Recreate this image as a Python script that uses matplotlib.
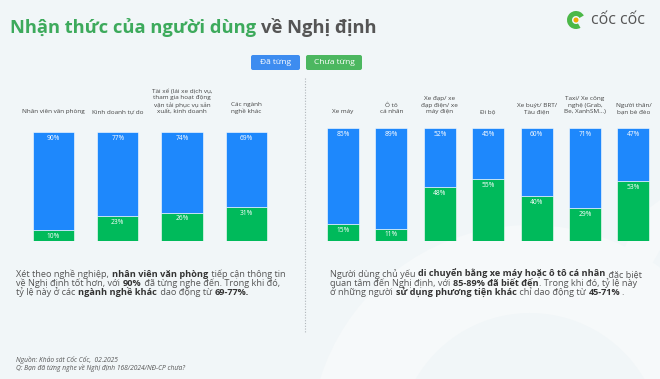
import matplotlib
matplotlib.use("Agg")
import matplotlib.pyplot as plt
from matplotlib.patches import FancyBboxPatch, Circle, Wedge

plt.rcParams['font.family'] = ['Open Sans', 'DejaVu Sans']

W, H = 660, 379
BG = '#F1F6F8'
BLUE = '#1E88FC'
GREEN = '#00BA5B'

# data
jobs = ['Nhân viên văn phòng', 'Kinh doanh tự do',
        'Tài xế (lái xe dịch vụ,\ntham gia hoạt động\nvận tải phục vụ sản\nxuất, kinh doanh',
        'Các ngành\nnghề khác']
jobs_yes = [90, 77, 74, 69]
jobs_no = [10, 23, 26, 31]

vehicles = ['Xe máy', 'Ô tô\ncá nhân', 'Xe đạp/ xe\nđạp điện/ xe\nmáy điện', 'Đi bộ',
            'Xe buýt/ BRT/\nTàu điện', 'Taxi/ Xe công\nnghệ (Grab,\nBe, XanhSM...)',
            'Người thân/\nbạn bè đèo']
veh_yes = [85, 89, 52, 45, 60, 71, 47]
veh_no = [15, 11, 48, 55, 40, 29, 53]

fig = plt.figure(figsize=(W / 100, H / 100), dpi=100, facecolor=BG)
r = fig.canvas.get_renderer()


def fx(x):
    return x / W


def fy(y):
    return 1 - y / H


# faint watermark of the logo
bgax = fig.add_axes([0, 0, 1, 1], zorder=-5)
bgax.set_xlim(0, W)
bgax.set_ylim(H, 0)
bgax.axis('off')
bgax.add_patch(Wedge((530, 445), 220, 100, 350, width=88, color='#F6F9FA', lw=0))
bgax.fill([600, 640, 660, 660, 620], [300, 215, 200, 250, 320], color='#F6F9FA', lw=0)

# title
t1 = fig.text(fx(10), fy(33), 'Nhận thức của người dùng ', fontsize=13.2, fontweight='bold',
              color='#3DAA5C', va='baseline')
bb = t1.get_window_extent(renderer=r)
fig.text(fx(10 + bb.width), fy(33), 'về Nghị định', fontsize=13.2, fontweight='bold',
         color='#555555', va='baseline')

# logo
bgax.add_patch(Wedge((576, 20), 9, 60, 330, width=5, color='#4CB848', lw=0))
bgax.add_patch(Circle((576, 20), 2.5, color='#F2A900', lw=0))
fig.text(fx(591), fy(20), 'cốc cốc', fontsize=11.5, color='#555555', va='center')

# legend boxes
for x0, w, label, c in [(251, 49, 'Đã từng', '#3D8CF0'), (306, 56, 'Chưa từng', '#4CB760')]:
    bgax.add_patch(FancyBboxPatch((x0, 55), w, 15, boxstyle='round,pad=0,rounding_size=2',
                                  color=c, lw=0))
    bgax.text(x0 + w / 2, 62.5, label, color='white', fontsize=6, ha='center', va='center')

# separator
bgax.plot([305, 305], [78, 332], color='#B0B6BA', lw=0.8, ls=(0, (1, 1.5)))


def panel(rect, cats, yes, no, width, lab_off):
    ax = fig.add_axes(rect)
    xs = range(len(cats))
    ax.bar(xs, no, width=width, color=GREEN, edgecolor='white', lw=0.4)
    ax.bar(xs, yes, bottom=no, width=width, color=BLUE, edgecolor='white', lw=0.4)
    ax.set_xlim(-0.5, len(cats) - 0.5)
    ax.set_ylim(0, 100)
    ax.axis('off')
    for i in xs:
        ax.annotate(f'{yes[i]}%', (i, 100), xytext=(0, -4.5), textcoords='offset points',
                    ha='center', va='center', color='white', fontsize=4.8)
        ax.annotate(f'{no[i]}%', (i, no[i]), xytext=(0, -4.5), textcoords='offset points',
                    ha='center', va='center', color='white', fontsize=4.8)
        ax.annotate(cats[i], (i, 1), xycoords=('data', 'axes fraction'), xytext=(0, lab_off),
                    textcoords='offset points', ha='center', va='bottom', color='#444444',
                    fontsize=4.6, linespacing=1.35)
    return ax


panel([fx(21.4), fy(241), 257 / W, 109 / H], jobs, jobs_yes, jobs_no, 0.64, 13)
panel([fx(318.8), fy(241), 338.8 / W, 113 / H], vehicles, veh_yes, veh_no, 0.66, 10)


def rich(x, y, parts, size=6.6, color='#555555', bold_color='#333333'):
    for s, b in parts:
        t = fig.text(fx(x), fy(y), s, fontsize=size, fontweight='bold' if b else 'normal',
                     color=bold_color if b else color, va='baseline')
        x += t.get_window_extent(renderer=r).width + 0.6


left_par = [
    [('Xét theo nghề nghiệp, ', 0), ('nhân viên văn phòng', 1), (' tiếp cận thông tin', 0)],
    [('về Nghị định tốt hơn, với ', 0), ('90%', 1), (' đã từng nghe đến. Trong khi đó,', 0)],
    [('tỷ lệ này ở các ', 0), ('ngành nghề khác', 1), (' dao động từ ', 0), ('69-77%.', 1)],
]
right_par = [
    [('Người dùng chủ yếu ', 0), ('di chuyển bằng xe máy hoặc ô tô cá nhân', 1), (' đặc biệt', 0)],
    [('quan tâm đến Nghị định, với ', 0), ('85-89% đã biết đến', 1), ('. Trong khi đó, tỷ lệ này', 0)],
    [('ở những người ', 0), ('sử dụng phương tiện khác', 1), (' chỉ dao động từ ', 0), ('45-71%', 1), ('.', 0)],
]
for k, line in enumerate(left_par):
    rich(16, 277 + k * 9.2, line)
for k, line in enumerate(right_par):
    rich(330, 277 + k * 9.2, line)

fig.text(fx(16), fy(362), 'Nguồn: Khảo sát Cốc Cốc,  02.2025', fontsize=4.8, style='italic',
         color='#555555', va='baseline')
fig.text(fx(16), fy(369.5), 'Q: Bạn đã từng nghe về Nghị định 168/2024/NĐ-CP chưa?', fontsize=4.8,
         style='italic', color='#555555', va='baseline')

fig.savefig('out.png', dpi=100, facecolor=BG)
